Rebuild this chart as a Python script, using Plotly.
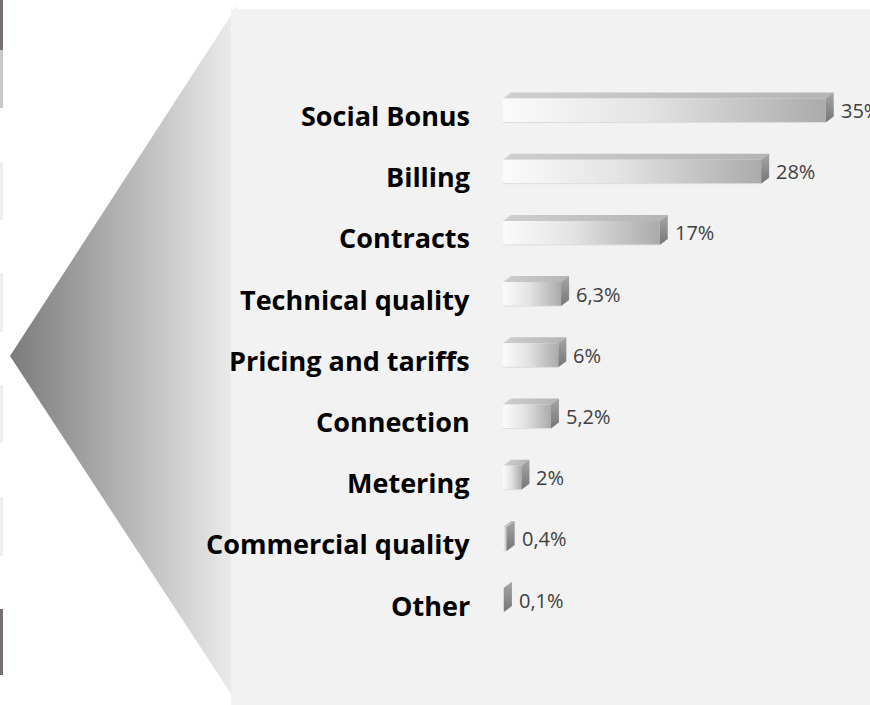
import plotly.graph_objects as go

# ---------------- data ----------------
categories = ["Social Bonus", "Billing", "Contracts", "Technical quality",
              "Pricing and tariffs", "Connection", "Metering",
              "Commercial quality", "Other"]
values = [35, 28, 17, 6.3, 6, 5.2, 2, 0.4, 0.1]
value_labels = ["35%", "28%", "17%", "6,3%", "6%", "5,2%", "2%", "0,4%", "0,1%"]

# ---------------- layout constants (pixels) ----------------
W, H = 870, 705
X0_PX = 503.0        # pixel of value 0
PX_PER_UNIT = 9.22   # pixels per percentage point
ROW0_PX = 110.5      # pixel centre of first row
ROW_STEP = 61.2      # pixels between rows
BAR_H_PX = 24.0
DEPTH_X_PX = 8.0
DEPTH_Y_PX = 6.0

x_min = -X0_PX / PX_PER_UNIT
x_max = (W - X0_PX) / PX_PER_UNIT
y_top = -ROW0_PX / ROW_STEP
y_bot = (H - ROW0_PX) / ROW_STEP

h = BAR_H_PX / 2 / ROW_STEP
dx = DEPTH_X_PX / PX_PER_UNIT
dy = DEPTH_Y_PX / ROW_STEP

fig = go.Figure()

# ---------------- decorations on pixel axes (x, y) ----------------
strips = [(0, 50, "#787070"), (50, 108, "#c8c8c8"), (162, 220, "#eeeeee"),
          (273, 332, "#eeeeee"), (385, 443, "#eeeeee"), (497, 556, "#eeeeee"),
          (609, 675, "#787070")]
for y0, y1, c in strips:
    fig.add_trace(go.Scatter(x=[0, 3, 3, 0, 0], y=[y0, y0, y1, y1, y0], mode="lines",
                             fill="toself", fillcolor=c, line=dict(width=0),
                             hoverinfo="skip", showlegend=False, xaxis="x", yaxis="y"))

# gradient chevron
fig.add_trace(go.Scatter(x=[237, 10, 237, 237], y=[6, 356, 703, 6], mode="lines",
                         fill="toself", line=dict(width=0),
                         fillgradient=dict(type="horizontal",
                                           colorscale=[[0, "#7b7b7b"], [1, "#eaeaea"]],
                                           start=10, stop=231),
                         hoverinfo="skip", showlegend=False, xaxis="x", yaxis="y"))
# light panel
fig.add_trace(go.Scatter(x=[231, 870, 870, 231, 231], y=[9, 9, 705, 705, 9], mode="lines",
                         fill="toself", fillcolor="#f2f2f2", line=dict(width=0),
                         hoverinfo="skip", showlegend=False, xaxis="x", yaxis="y"))

# ---------------- 3D bars on data axes (x2, y2) ----------------
for i, v in enumerate(values):
    top = i - h
    bot = i + h
    # top face
    fig.add_trace(go.Scatter(
        x=[0, v, v + dx, dx, 0], y=[top, top, top - dy, top - dy, top],
        mode="lines", fill="toself", line=dict(width=0),
        fillgradient=dict(type="horizontal",
                          colorscale=[[0, "#cfcfcf"], [1, "#b4b4b4"]],
                          start=0, stop=v + dx),
        hoverinfo="skip", showlegend=False, xaxis="x2", yaxis="y2"))
    # front face
    fig.add_trace(go.Scatter(
        x=[0, v, v, 0, 0], y=[top, top, bot, bot, top],
        mode="lines", fill="toself", line=dict(width=0),
        fillgradient=dict(type="horizontal",
                          colorscale=[[0, "#fbfbfb"], [0.45, "#e3e3e3"], [1, "#ababab"]],
                          start=0, stop=max(v, 0.05)),
        hoverinfo="skip", showlegend=False, xaxis="x2", yaxis="y2"))
    # bottom light edge
    fig.add_trace(go.Scatter(
        x=[0, v], y=[bot, bot], mode="lines",
        line=dict(width=1, color="#dcdcdc"),
        hoverinfo="skip", showlegend=False, xaxis="x2", yaxis="y2"))
    # side face
    fig.add_trace(go.Scatter(
        x=[v, v + dx, v + dx, v, v], y=[top, top - dy, bot - dy, bot, top],
        mode="lines", fill="toself", line=dict(width=0),
        fillgradient=dict(type="vertical",
                          colorscale=[[0, "#a6a6a6"], [1, "#767676"]],
                          start=top - dy, stop=bot),
        hoverinfo="skip", showlegend=False, xaxis="x2", yaxis="y2"))

annotations = []
label_x = (472 - X0_PX) / PX_PER_UNIT
for i, (cat, v, lab) in enumerate(zip(categories, values, value_labels)):
    annotations.append(dict(
        x=label_x, y=i, xref="x2", yref="y2", text=cat, showarrow=False,
        xanchor="right", yanchor="middle", yshift=-5,
        font=dict(family="Open Sans", size=27, color="#000000", weight="bold")))
    annotations.append(dict(
        x=v + dx, y=i, xref="x2", yref="y2", text=lab, showarrow=False,
        xanchor="left", yanchor="middle", xshift=5,
        font=dict(family="Open Sans", size=20, color="#404040")))

fig.update_layout(
    width=W, height=H,
    margin=dict(l=0, r=0, t=0, b=0),
    paper_bgcolor="#ffffff",
    plot_bgcolor="rgba(0,0,0,0)",
    showlegend=False,
    xaxis=dict(range=[0, W], domain=[0, 1], visible=False, fixedrange=True),
    yaxis=dict(range=[H, 0], domain=[0, 1], visible=False, fixedrange=True),
    xaxis2=dict(range=[x_min, x_max], domain=[0, 1], overlaying="x", visible=False,
                fixedrange=True),
    yaxis2=dict(range=[y_bot, y_top], domain=[0, 1], overlaying="y", visible=False,
                fixedrange=True, anchor="x2"),
    annotations=annotations,
)

fig.write_html("out.html", config={"displayModeBar": False},
               post_script="document.body.style.margin='0';")
